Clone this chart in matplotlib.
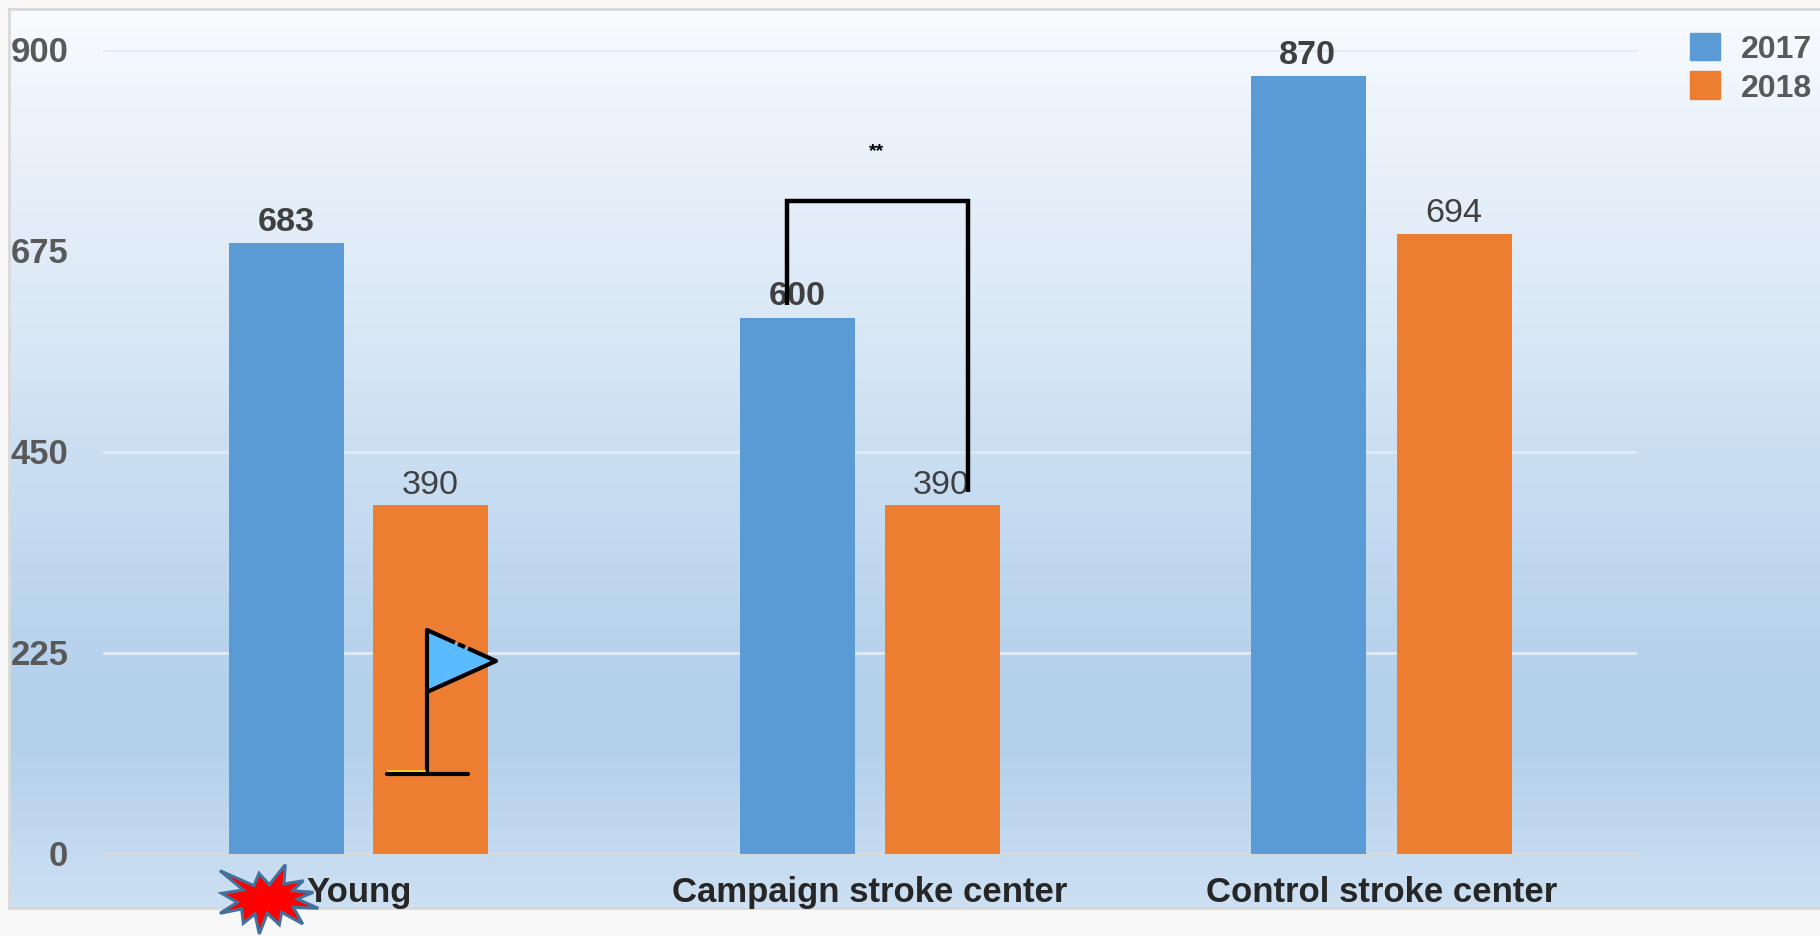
import numpy as np
import matplotlib
matplotlib.use("Agg")
import matplotlib.pyplot as plt
from matplotlib.patches import Polygon, Patch
from matplotlib.transforms import ScaledTranslation
from matplotlib.colors import LinearSegmentedColormap

W, H, DPI = 1820, 937, 100

categories = ["Young", "Campaign stroke center", "Control stroke center"]
series_names = ["2017", "2018"]
values_2017 = [683, 600, 870]
values_2018 = [390, 390, 694]
yticks = [0, 225, 450, 675, 900]

BLUE, ORANGE = "#5B9BD5", "#ED7D31"

plt.rcParams["font.family"] = ["Liberation Sans", "DejaVu Sans"]
fig = plt.figure(figsize=(W / DPI, H / DPI), dpi=DPI, facecolor="#F8F8F8")


def frac(x0, y0, x1, y1):
    return [x0 / W, 1 - y1 / H, (x1 - x0) / W, (y1 - y0) / H]


# gradient panel
bg = fig.add_axes(frac(9, 10, W, 909), zorder=0)
cmap = LinearSegmentedColormap.from_list(
    "panel",
    [(0.0, "#F9FCFF"), (0.12, "#ECF3FB"), (0.35, "#DAE8F6"), (0.49, "#CBDFF2"),
     (0.76, "#B3D0EB"), (0.82, "#B3D0EB"), (1.0, "#CDE0F3")],
)
bg.imshow(np.linspace(0, 1, 512)[:, None], aspect="auto", cmap=cmap, vmin=0, vmax=1)
bg.set_xticks([]); bg.set_yticks([])
for side in ("top", "bottom", "left"):
    bg.spines[side].set_color("#D9D9D9")
    bg.spines[side].set_linewidth(2)
bg.spines["right"].set_visible(False)

ax = fig.add_axes(frac(103, 50.5, 1637, 855), zorder=1)
ax.patch.set_alpha(0)
x = np.arange(len(categories))
bw = 0.225
off = np.array([0.141, 0.141, 0.1429])
b1 = ax.bar(x - off, values_2017, bw, color=BLUE, zorder=3, label=series_names[0])
b2 = ax.bar(x + off, values_2018, bw, color=ORANGE, zorder=3, label=series_names[1])
ax.set_xlim(-0.5, 2.5)
ax.set_ylim(0, 900)
ax.set_yticks(yticks)
ax.set_xticks(x, categories)
ax.grid(axis="y", color="#E0EBF7", lw=2, zorder=1)
ax.set_axisbelow(True)
for s in ("top", "left", "right"):
    ax.spines[s].set_visible(False)
ax.spines["bottom"].set_color("#D9D9D9")
ax.spines["bottom"].set_linewidth(1.7)
ax.tick_params(axis="y", length=0, pad=25, labelsize=25, labelcolor="#595959")
ax.tick_params(axis="x", length=0, pad=15, labelsize=25, labelcolor="#262626")
nudge = ScaledTranslation(0, 2 / DPI, fig.dpi_scale_trans)
for t in ax.get_yticklabels():
    t.set_fontweight("bold")
    t.set_transform(t.get_transform() + nudge)
for t in ax.get_xticklabels():
    t.set_fontweight("bold")

for bars, vals, weight, lift in ((b1, values_2017, "bold", 9.5), (b2, values_2018, "normal", 9)):
    for r, v in zip(bars, vals):
        ax.annotate(str(v), (r.get_x() + r.get_width() / 2, v), xytext=(-0.5, lift),
                    textcoords="offset points", ha="center", va="baseline",
                    fontsize=24.6, color="#404040", fontweight=weight, zorder=6)

ax.legend(handles=[Patch(color=BLUE, label=series_names[0]),
                   Patch(color=ORANGE, label=series_names[1])],
          loc="upper left", bbox_to_anchor=(1690 / W, 1 - 33.5 / H),
          bbox_transform=fig.transFigure, frameon=False,
          handlelength=0.94, handleheight=0.94, handletextpad=0.66,
          labelspacing=0.22, borderpad=0, borderaxespad=0,
          labelcolor="#595959", prop={"weight": "bold", "size": 23})

# significance bracket, in data coordinates
ax.plot([0.8386, 0.8386, 1.191, 1.191], [614, 730.5, 730.5, 405], color="black",
        lw=3.2, solid_joinstyle="miter", solid_capstyle="butt", zorder=7, clip_on=False)
ax.text(1.0136, 786.5, "**", ha="center", va="center", fontsize=14, fontweight="bold",
        color="black", zorder=7)

# decorations on the overlay, in reference pixels
ov = fig.add_axes([0, 0, 1, 1], zorder=5)
ov.set_xlim(0, W); ov.set_ylim(H, 0); ov.axis("off")
ov.add_patch(Polygon([(427, 631), (496, 662), (427, 693)], closed=True,
                     fc="#5BBBFF", ec="none"))
kw = dict(color="black", lw=3, solid_capstyle="round")
ov.plot([427, 427], [631, 775], **kw)
ov.plot([387, 468], [775, 775], **kw)
ov.plot([427, 496], [693, 662], **kw)
dash = dict(color="black", lw=3, solid_capstyle="butt")
ov.plot([427, 455], [631, 643.6], **dash)
ov.plot([458, 465], [645, 648.1], **dash)
ov.plot([468, 496], [649.4, 662], **dash)
ov.plot([388, 425], [772, 772], color="#FFD92F", lw=1.2)

star = [(220, 871.7), (254, 886.7), (259, 874.3), (269.3, 885.7), (285.3, 865.7),
        (284, 885), (303.3, 881.7), (292.7, 891.7), (313.3, 893.3), (297.3, 900),
        (318.3, 909.3), (293.3, 908.3), (302.7, 925), (281.7, 913.3), (279.3, 925.7),
        (267.3, 914.3), (259.3, 935), (255, 915), (243.3, 924.3), (241.7, 910),
        (220, 914.3), (237.3, 903.3), (221.7, 894.3), (243.3, 891)]
ov.add_patch(Polygon(star, closed=True, fc="#FF0000", ec="#41719C", lw=2.2, joinstyle="miter"))

fig.savefig("out.png", dpi=DPI, facecolor=fig.get_facecolor())
